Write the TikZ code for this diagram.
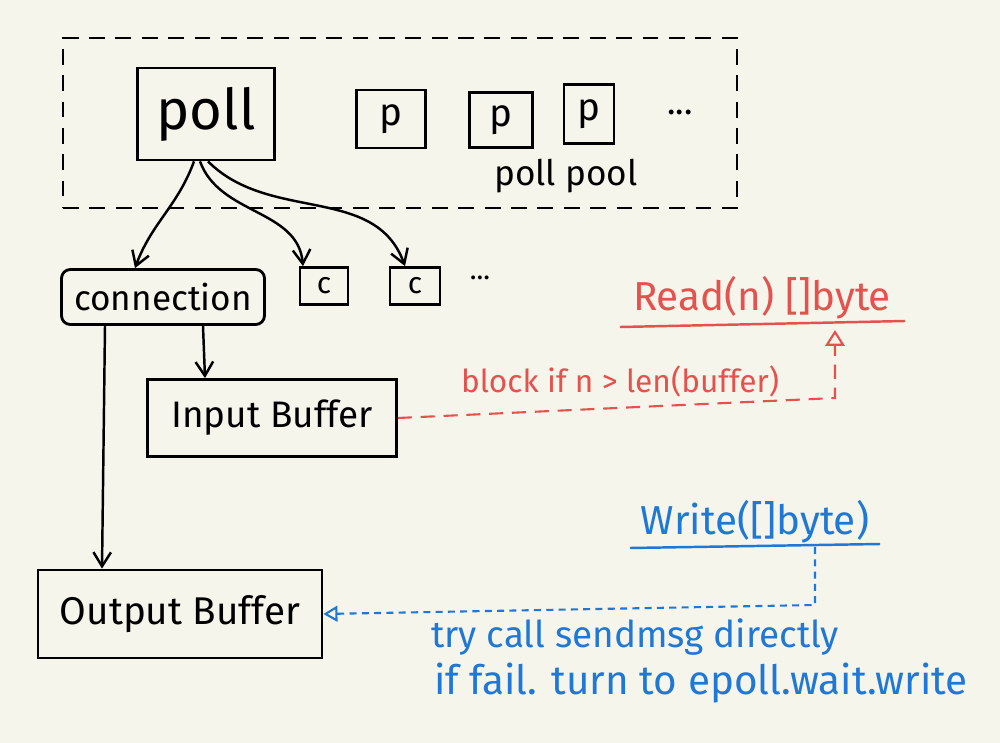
\documentclass[tikz,border=0pt]{standalone}
\usepackage{fontspec}
\setmainfont{Fira Sans}
\usetikzlibrary{arrows.meta,calc}
\definecolor{bg}{HTML}{F5F5EC}
\definecolor{rd}{HTML}{E4524E}
\definecolor{bl}{HTML}{1F77D6}
\tikzset{
  box/.style={draw, line width=1.6pt, inner sep=0pt, font=\fontsize{20}{24}\selectfont},
  arr/.style={line width=1.4pt, -{Straight Barb[length=8pt,width=10pt]}},
  reddash/.style={rd, line width=1.2pt, dash pattern=on 8pt off 5pt},
  bluedash/.style={bl, line width=1.2pt, dash pattern=on 4pt off 3pt},
  lbl/.style={inner sep=0pt},
}
\begin{document}
\begin{tikzpicture}[x=0.02cm,y=-0.02cm]
\fill[bg] (0,0) rectangle (1000,743);
\useasboundingbox (0,0) rectangle (1000,743);

% poll pool container
\node[draw, line width=1.5pt, dash pattern=on 9pt off 6pt, minimum width=13.48cm, minimum height=3.4cm] (pool) at (400,123) {};
\node[box, minimum width=2.74cm, minimum height=1.84cm, font=\fontsize{32}{36}\selectfont] (poll) at (206,114) {poll};
\node[box, minimum width=1.38cm, minimum height=1.16cm, font=\fontsize{22}{26}\selectfont] (p1) at (391,119) {p};
\node[box, minimum width=1.26cm, minimum height=1.1cm, font=\fontsize{22}{26}\selectfont] (p2) at (501,120) {p};
\node[box, minimum width=1.0cm, minimum height=1.18cm, font=\fontsize{22}{26}\selectfont] (p3) at (589,114) {p};
\node[lbl, font=\fontsize{20}{24}\selectfont] (pdots) at (680,112) {...};
\node[lbl, font=\fontsize{20}{24}\selectfont] (pooltxt) at (566,176) {poll pool};

% connections
\node[box, rounded corners=5pt, minimum width=4.06cm, minimum height=1.1cm] (conn) at (163,297) {connection};
\node[box, minimum width=0.96cm, minimum height=0.74cm, font=\fontsize{17}{20}\selectfont] (c1) at (324,286) {c};
\node[box, minimum width=1.0cm, minimum height=0.74cm, font=\fontsize{17}{20}\selectfont] (c2) at (415,286) {c};
\node[lbl, font=\fontsize{16}{20}\selectfont] (cdots) at (480,278) {...};

% buffers
\node[box, minimum width=4.98cm, minimum height=1.54cm, font=\fontsize{21}{25}\selectfont] (inbuf) at (272,418) {Input Buffer};
\node[box, minimum width=5.68cm, minimum height=1.76cm, font=\fontsize{22}{26}\selectfont] (outbuf) at (180,614) {Output Buffer};

% poll -> connections
\draw[arr] ($(poll.south)+(-12,0)$) to[out=-110, in=70] ($(conn.north)+(-28,0)$);
\draw[arr] ($(poll.south)+(-6,0)$) to[out=-70, in=95] ($(c1.north)+(-21,0)$);
\draw[arr] ($(poll.south)+(2,0)$) to[out=-45, in=110] ($(c2.north)+(-10,0)$);

% connection -> buffers
\draw[arr] ($(conn.south)+(40,0)$) -- ($(inbuf.north)+(-67,0)$);
\draw[arr] ($(conn.south)+(-58,0)$) -- ($(outbuf.north)+(-78,0)$);

% Read
\node[lbl, rd, font=\fontsize{23}{27}\selectfont] (read) at (762,298) {Read(n) []byte};
\coordinate (readul) at (835,330);
\draw[rd, line width=1.4pt] (620,327) -- (905,321);
\draw[reddash, -{Triangle[open, length=9pt, width=11pt]}] (inbuf.east) -- (835,398) -- (readul);
\node[lbl, rd, font=\fontsize{18}{22}\selectfont] (blk) at (620,381) {block if n > len(buffer)};

% Write
\node[lbl, bl, font=\fontsize{23}{27}\selectfont] (write) at (755,522) {Write([]byte)};
\coordinate (writeul) at (815,547);
\draw[bl, line width=1.4pt] (630,548) -- (880,544);
\draw[bluedash, -{Triangle[open, length=8pt, width=9pt]}] (writeul) -- (815,605) -- (outbuf.east);
\node[lbl, bl, font=\fontsize{21}{25}\selectfont] (try) at (635,637) {try call sendmsg directly};
\node[lbl, bl, font=\fontsize{23}{27}\selectfont] (fail) at (701,683) {if fail. turn to epoll.wait.write};
\end{tikzpicture}
\end{document}
